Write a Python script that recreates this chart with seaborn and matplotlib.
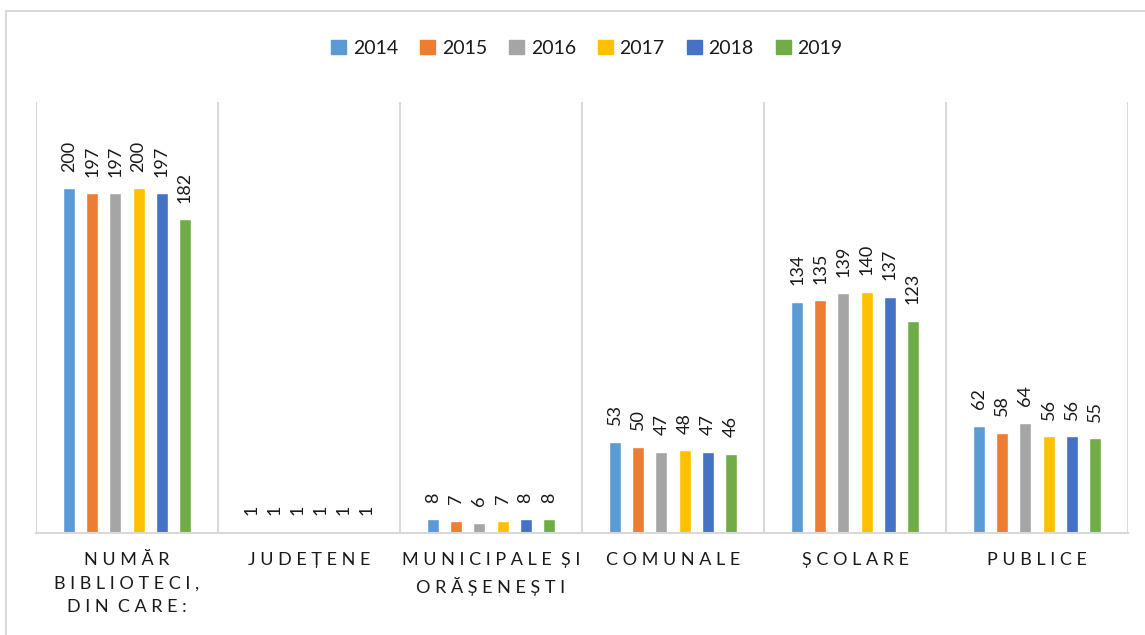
import matplotlib.pyplot as plt
import matplotlib.patches as mpatches
import seaborn as sns
import pandas as pd
import numpy as np

## Data
categories = [
    "NUMĂR BIBLIOTECI, DIN CARE:",
    "JUDEȚENE",
    "MUNICIPALE ȘI ORĂȘENEȘTI",
    "COMUNALE",
    "ȘCOLARE",
    "PUBLICE",
]
tick_labels = [
    "NUMĂR\nBIBLIOTECI,\nDIN CARE:",
    "JUDEȚENE",
    "MUNICIPALE ȘI\nORĂȘENEȘTI",
    "COMUNALE",
    "ȘCOLARE",
    "PUBLICE",
]
years = ["2014", "2015", "2016", "2017", "2018", "2019"]
values_2014 = [200, 1, 8, 53, 134, 62]
values_2015 = [197, 1, 7, 50, 135, 58]
values_2016 = [197, 1, 6, 47, 139, 64]
values_2017 = [200, 1, 7, 48, 140, 56]
values_2018 = [197, 1, 8, 47, 137, 56]
values_2019 = [182, 1, 8, 46, 123, 55]

year_colors = ["#5B9BD5", "#ED7D31", "#A5A5A5", "#FFC000", "#4472C4", "#70AD47"]
line_grey = "#D9D9D9"
text_dark = "#1A1A1A"

series = [values_2014, values_2015, values_2016, values_2017, values_2018, values_2019]
df = pd.DataFrame(
    [(cat, yr, v) for yr, vals in zip(years, series) for cat, v in zip(categories, vals)],
    columns=["category", "year", "value"],
)


def spaced(label):
    # letter-spaced uppercase like the original
    lines = []
    for line in label.split("\n"):
        lines.append("  ".join(" ".join(word) for word in line.split(" ")))
    return "\n".join(lines)


## Setup
sns.set_style("white")
plt.rcParams["font.family"] = ["Lato", "DejaVu Sans"]

fig = plt.figure(figsize=(11.45, 6.35), dpi=100)
fig.set_facecolor("white")
ax = fig.add_axes([36 / 1145, (635 - 533) / 635, 1092 / 1145, 431 / 635])

# outer frame
fig.patches.append(mpatches.Rectangle((6 / 1145, -0.05), 1.2, 1 - 11 / 635 + 0.05,
                                      transform=fig.transFigure, fill=False,
                                      ec=line_grey, lw=1.5, zorder=0))

## Plot
sns.barplot(data=df, x="category", y="value", hue="year", palette=year_colors,
            width=0.76, gap=0.48, ax=ax, saturation=1, legend=False)

for container in ax.containers:
    ax.bar_label(container, fmt="%d", rotation=90, padding=12, fontsize=13, color=text_dark)

## Format
ax.set_ylim(0, 250)
ax.set_xlim(-0.5, len(categories) - 0.5)
ax.set_xlabel("")
ax.set_ylabel("")
ax.set_yticks([])
ax.set_xticks(range(len(categories)))
ax.set_xticklabels([spaced(t) for t in tick_labels], fontsize=13, color=text_dark, linespacing=1.55)
ax.tick_params(axis="x", length=0, pad=14)
ax.set_xticks(np.arange(-0.5, len(categories)), minor=True)
ax.tick_params(axis="x", which="minor", length=0)
ax.grid(which="minor", axis="x", color=line_grey, lw=1.5)
ax.grid(which="major", visible=False)
for side in ["top", "left", "right"]:
    ax.spines[side].set_visible(False)
ax.spines["bottom"].set_color(line_grey)
ax.spines["bottom"].set_linewidth(1.5)

## Legend
handles = [mpatches.Patch(color=c, label=y) for c, y in zip(year_colors, years)]
fig.legend(handles=handles, loc="center", bbox_to_anchor=(587 / 1145, 1 - 48 / 635),
           ncol=6, frameon=False, fontsize=14, handlelength=0.75, handleheight=0.75,
           handletextpad=0.35, columnspacing=1.15, labelcolor=text_dark)

fig.savefig("out.png", dpi=100, facecolor="white")
